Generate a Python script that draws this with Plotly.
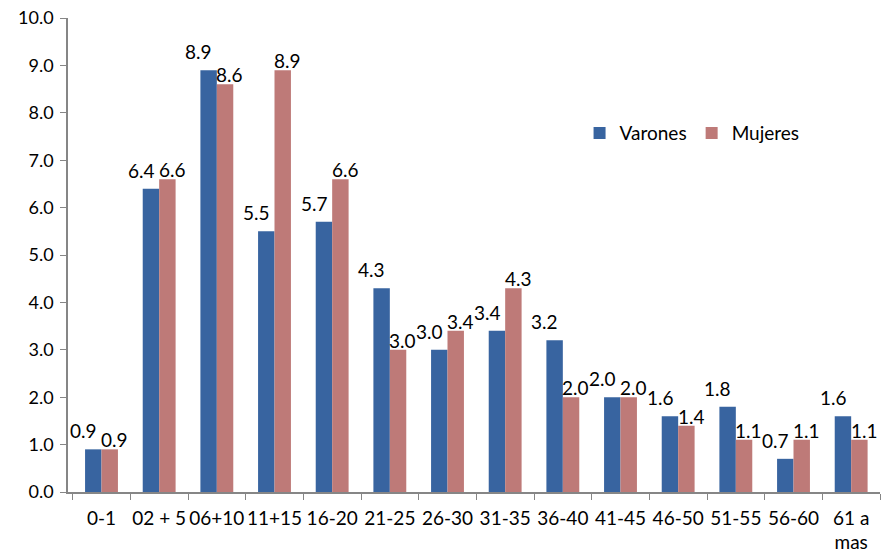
import plotly.graph_objects as go

categories = ["0-1", "02 + 5", "06+10", "11+15", "16-20", "21-25", "26-30",
              "31-35", "36-40", "41-45", "46-50", "51-55", "56-60", "61 a<br>mas"]
varones = [0.9, 6.4, 8.9, 5.5, 5.7, 4.3, 3.0, 3.4, 3.2, 2.0, 1.6, 1.8, 0.7, 1.6]
mujeres = [0.9, 6.6, 8.6, 8.9, 6.6, 3.0, 3.4, 4.3, 2.0, 2.0, 1.4, 1.1, 1.1, 1.1]
y_ticks = [0, 1, 2, 3, 4, 5, 6, 7, 8, 9, 10]

FONT = "Lato"
FS = 19
BLUE = "#3864A0"
RED = "#BE7A78"

fig = go.Figure()
fig.add_trace(go.Bar(name="Varones", x=categories, y=varones,
                     marker=dict(color=BLUE, line=dict(width=0))))
fig.add_trace(go.Bar(name="Mujeres", x=categories, y=mujeres,
                     marker=dict(color=RED, line=dict(width=0))))

annotations = []
for c, v in zip(categories, varones):
    annotations.append(dict(x=c, y=v, xref="x", yref="y", text=f"{v:.1f}",
                            showarrow=False, xanchor="center", yanchor="bottom",
                            xshift=-18, yshift=5,
                            font=dict(family=FONT, size=FS, color="#000000")))
for c, v in zip(categories, mujeres):
    annotations.append(dict(x=c, y=v, xref="x", yref="y", text=f"{v:.1f}",
                            showarrow=False, xanchor="center", yanchor="bottom",
                            xshift=13, yshift=-4,
                            font=dict(family=FONT, size=FS, color="#000000")))

fig.update_layout(
    width=884, height=556,
    margin=dict(l=68, r=4, t=18, b=64),
    paper_bgcolor="white", plot_bgcolor="white",
    barmode="group", bargap=0.43, bargroupgap=0,
    font=dict(family=FONT, size=FS, color="#000000"),
    showlegend=True,
    legend=dict(orientation="h", x=0.63, y=0.757, xanchor="left", yanchor="middle",
                font=dict(family=FONT, size=FS), bgcolor="rgba(0,0,0,0)",
                itemwidth=30, tracegroupgap=0),
    annotations=annotations,
    xaxis=dict(type="category", showline=True, linecolor="#868686", linewidth=1.5,
               ticks="outside", ticklen=6, tickcolor="#868686", tickson="boundaries",
               tickangle=0, ticklabelstandoff=8, automargin=False,
               showgrid=False, tickfont=dict(family=FONT, size=FS)),
    yaxis=dict(range=[0, 10], tickvals=y_ticks, tickformat=".1f", showline=True,
               linecolor="#868686", linewidth=1.5, ticks="outside", ticklen=6,
               tickcolor="#868686", showgrid=False, zeroline=False,
               ticklabelstandoff=3, automargin=False,
               tickfont=dict(family=FONT, size=18)),
)

fig.write_html("out.html", config={"displayModeBar": False},
               post_script="document.body.style.margin='0';document.body.style.padding='0';")
